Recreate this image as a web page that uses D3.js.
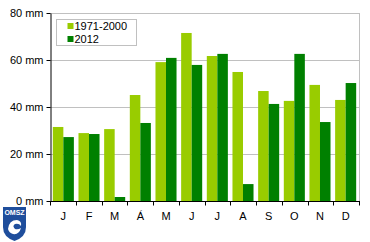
<!DOCTYPE html>
<html>
<head>
<meta charset="utf-8">
<script src="https://cdn.jsdelivr.net/npm/d3@7"></script>
<style>
  body { margin: 0; background: #fff; }
  svg { display: block; font-family: Arial, "Liberation Sans", sans-serif; }
</style>
</head>
<body>
<div id="chart"></div>
<script>
const months = ["J", "F", "M", "Á", "M", "J", "J", "A", "S", "O", "N", "D"]
const normal = [31.5, 28.9, 30.6, 45.1, 59.1, 71.5, 61.7, 54.9, 46.8, 42.6, 49.4, 43.0]
const year2012 = [27.2, 28.5, 1.7, 33.2, 60.9, 57.9, 62.6, 7.2, 41.3, 62.6, 33.6, 50.2]
const yTicks = [0, 20, 40, 60, 80]
const seriesNames = ["1971-2000", "2012"]
const seriesColors = ["#99cc00", "#008000"]

const width = 370
const height = 242
const margin = { top: 13, right: 11, bottom: 41, left: 50 }
const innerW = width - margin.left - margin.right
const innerH = height - margin.top - margin.bottom

const svg = d3.select("#chart")
  .append("svg")
  .attr("width", width)
  .attr("height", height)

const g = svg.append("g")
  .attr("transform", `translate(${margin.left},${margin.top})`)

const x = d3.scaleBand()
  .domain(d3.range(months.length))
  .range([0, innerW])
  .paddingInner(0.18)
  .paddingOuter(0.11)

const xSub = d3.scaleBand()
  .domain([0, 1])
  .range([0, x.bandwidth()])

const y = d3.scaleLinear()
  .domain([0, 80])
  .range([innerH, 0])

// Gridlines
g.append("g")
  .selectAll("line")
  .data(yTicks.filter(d => d > 0))
  .join("line")
  .attr("x1", 0)
  .attr("x2", innerW)
  .attr("y1", d => Math.round(y(d)) + 0.5)
  .attr("y2", d => Math.round(y(d)) + 0.5)
  .attr("stroke", "#c0c0c0")
  .attr("stroke-width", 1)

// Right border
g.append("line")
  .attr("x1", innerW + 0.5)
  .attr("x2", innerW + 0.5)
  .attr("y1", 0)
  .attr("y2", innerH)
  .attr("stroke", "#c0c0c0")

// Bars
const series = [normal, year2012]
series.forEach((values, si) => {
  g.append("g")
    .selectAll("rect")
    .data(values)
    .join("rect")
    .attr("x", (d, i) => x(i) + xSub(si))
    .attr("y", d => y(d))
    .attr("width", xSub.bandwidth())
    .attr("height", d => innerH - y(d))
    .attr("fill", seriesColors[si])
})

// Y axis
const yAxis = g.append("g")
  .attr("transform", "translate(0.5,0)")
  .call(d3.axisLeft(y).tickValues(yTicks).tickSize(4).tickSizeOuter(0).tickFormat(d => `${d} mm`))
yAxis.select(".domain").attr("stroke", "#000")
yAxis.selectAll(".tick line").attr("stroke", "#000")
yAxis.selectAll(".tick text")
  .attr("x", -7)
  .style("font-size", "11px")
  .style("font-family", "Arial, 'Liberation Sans', sans-serif")
  .attr("fill", "#000")

// X axis
const xAxis = g.append("g")
  .attr("transform", `translate(0,${innerH + 0.5})`)
xAxis.append("line")
  .attr("x1", 0)
  .attr("x2", innerW + 1)
  .attr("stroke", "#000")
xAxis.selectAll(".xtick")
  .data(d3.range(months.length + 1))
  .join("line")
  .attr("class", "xtick")
  .attr("x1", i => Math.round(i * innerW / months.length) + 0.5)
  .attr("x2", i => Math.round(i * innerW / months.length) + 0.5)
  .attr("y1", 0)
  .attr("y2", 4)
  .attr("stroke", "#000")
xAxis.selectAll("text")
  .data(months)
  .join("text")
  .attr("x", (d, i) => x(i) + x.bandwidth() / 2)
  .attr("y", 18)
  .attr("text-anchor", "middle")
  .style("font-size", "11px")
  .attr("fill", "#000")
  .text(d => d)

// Legend
const legend = svg.append("g")
  .attr("transform", "translate(56.5,19.5)")
legend.append("rect")
  .attr("width", 80)
  .attr("height", 26)
  .attr("fill", "#fff")
  .attr("stroke", "#c0c0c0")
seriesNames.forEach((name, i) => {
  legend.append("rect")
    .attr("x", 11)
    .attr("y", 3.5 + i * 13)
    .attr("width", 6)
    .attr("height", 6)
    .attr("fill", seriesColors[i])
  legend.append("text")
    .attr("x", 18)
    .attr("y", 10.5 + i * 13)
    .style("font-size", "11px")
    .attr("fill", "#000")
    .text(name)
})

// OMSZ logo
const logo = svg.append("g")
  .attr("transform", "translate(3,207)")
logo.append("path")
  .attr("d", "M0,0 H23 V20 Q23,30 11.5,34 Q0,30 0,20 Z")
  .attr("fill", "#1f4e9c")
logo.append("text")
  .attr("x", 11.5)
  .attr("y", 8)
  .attr("text-anchor", "middle")
  .style("font-size", "7px")
  .style("font-weight", "bold")
  .attr("fill", "#fff")
  .text("OMSZ")
logo.append("path")
  .attr("d", "M5,22 Q6,13 14,13 Q19,14 18,19 Q16,16 12,17 Q9,19 12,22 Q15,23 18,21 Q16,28 10,27 Q6,26 5,22 Z")
  .attr("fill", "#fff")
logo.append("circle")
  .attr("cx", 12.5)
  .attr("cy", 19.5)
  .attr("r", 1.6)
  .attr("fill", "#1f4e9c")
</script>
</body>
</html>
